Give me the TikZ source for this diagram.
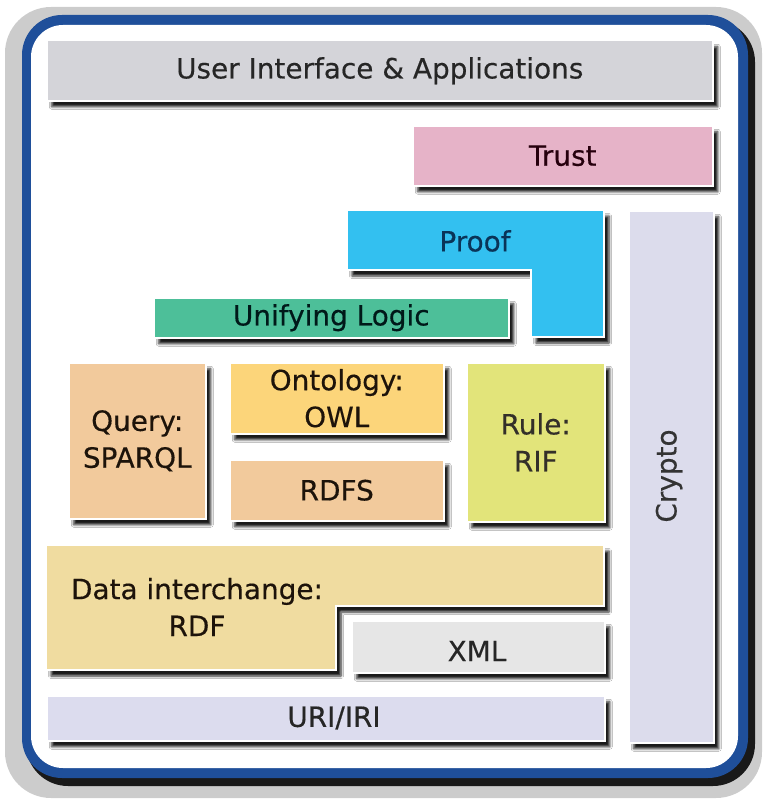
\documentclass[tikz,border=0pt]{standalone}
\usepackage{fontspec}
\setmainfont{DejaVu Sans}[FakeBold=0.4]
\usetikzlibrary{shadows.blur}
\definecolor{framecol}{HTML}{1F4F9A}
\definecolor{uicol}{HTML}{D4D4D9}
\definecolor{trustcol}{HTML}{E6B3C8}
\definecolor{proofcol}{HTML}{33C0F0}
\definecolor{logiccol}{HTML}{4DBF99}
\definecolor{querycol}{HTML}{F2CA9C}
\definecolor{owlcol}{HTML}{FCD57A}
\definecolor{rulecol}{HTML}{E2E47A}
\definecolor{cryptocol}{HTML}{DCDCEC}
\definecolor{rdfcol}{HTML}{F0DCA0}
\definecolor{xmlcol}{HTML}{E6E6E6}
\definecolor{uricol}{HTML}{DCDCEE}
\definecolor{prooftext}{HTML}{0A3458}
\begin{document}
\begin{tikzpicture}[x=1bp,y=-1bp,
  layer/.style={draw=white,line width=1.5bp,
    blur shadow={shadow xshift=5bp,shadow yshift=-6bp,shadow blur steps=5,shadow blur radius=2.5bp,shadow opacity=90}},
  box/.style={layer,rectangle,inner sep=0pt,anchor=north west,align=center,
    font=\fontsize{28}{37}\selectfont,text=black!85},
  word/.style={inner sep=0pt,align=center,font=\fontsize{28}{37}\selectfont}]
  \useasboundingbox (0,0) rectangle (764,802);
  % frame
  \fill[gray!40,rounded corners=46bp] (5,7) rectangle (762,798);
  \fill[black!90,rounded corners=42bp] (26,20) rectangle (755,786);
  \fill[framecol,rounded corners=40bp] (22,15) rectangle (748,778);
  \fill[white,rounded corners=32bp] (31,25) rectangle (738,768);
  % layers
  \node[box,fill=uricol,minimum width=558bp,minimum height=45bp] (uri) at (46,695) {};
  \node[word,text=black!85] (uritext) at (334,718) {URI/IRI};
  \node[box,fill=xmlcol,minimum width=253bp,minimum height=52bp] (xml) at (351,620) {};
  \node[word,text=black!85] (xmltext) at (477,651) {XML};
  \draw[layer,fill=rdfcol] (46,545) -- (604,545) -- (604,606) -- (336,606) -- (336,670) -- (46,670) -- cycle;
  \node[word,text=black!85!brown] (rdf) at (197,607) {Data interchange:\\RDF};
  \node[box,fill=querycol,minimum width=137bp,minimum height=156bp,text=black!85!brown] (query) at (68,362) {Query:\\SPARQL};
  \node[box,fill=querycol,minimum width=214bp,minimum height=61bp,text=black!85!brown] (rdfs) at (229,459) {RDFS};
  \node[box,fill=owlcol,minimum width=214bp,minimum height=71bp,text=black!85!brown] (owl) at (229,362) {Ontology:\\OWL};
  \node[box,fill=rulecol,minimum width=138bp,minimum height=159bp,text=black!85!olive] (rule) at (466,362) {Rule:\\RIF};
  \node[box,fill=logiccol,minimum width=355bp,minimum height=40bp,text=black!80!teal] (logic) at (153,297) {Unifying Logic};
  \draw[layer,fill=proofcol] (347,210) -- (604,210) -- (604,337) -- (531,337) -- (531,270) -- (347,270) -- cycle;
  \node[word,text=prooftext] (proof) at (475,241) {Proof};
  \node[box,fill=cryptocol,minimum width=85bp,minimum height=532bp] (crypto) at (628,210) {};
  \node[word,text=black!80,rotate=90] (cryptotext) at (669,476) {Crypto};
  \node[box,fill=trustcol,minimum width=300bp,minimum height=60bp,text=black!80!purple] (trust) at (412,125) {Trust};
  \node[box,fill=uicol,minimum width=666bp,minimum height=60bp] (ui) at (46,40) {User Interface \& Applications};
\end{tikzpicture}
\end{document}
